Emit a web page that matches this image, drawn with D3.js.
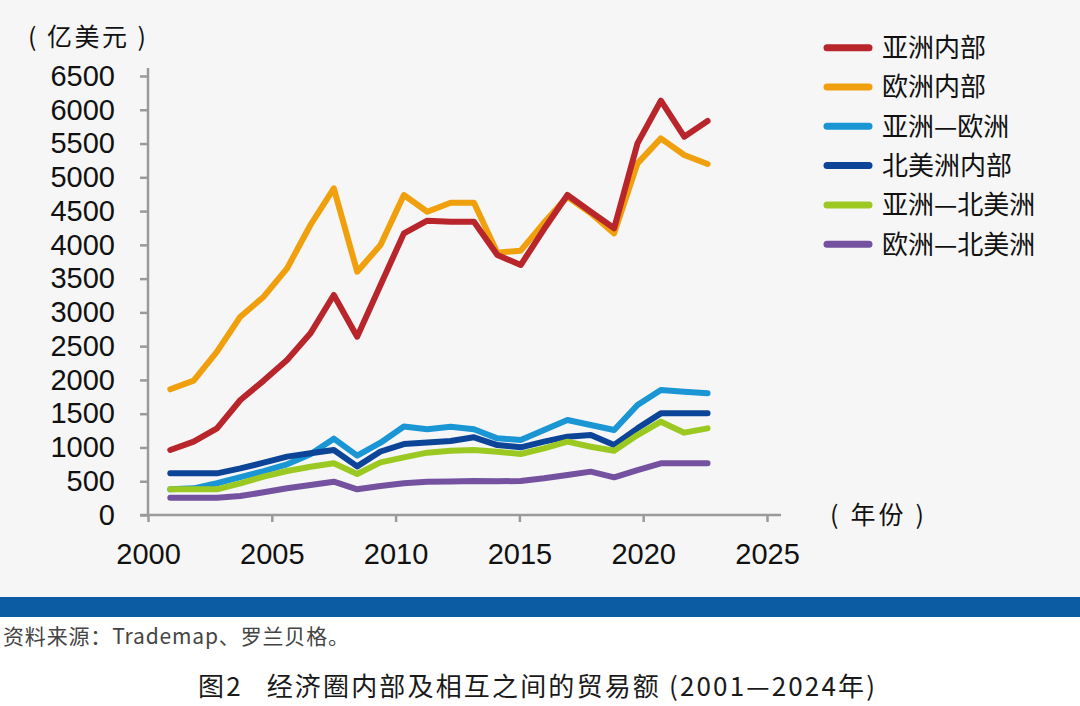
<!DOCTYPE html>
<html>
<head>
  <meta charset="utf-8">
  <script src="https://d3js.org/d3.v7.min.js"></script>
  <style>
    body { margin: 0; background: #ffffff; }
    text { font-family: "Liberation Sans", Arial, sans-serif; }
    .cn { font-family: "Noto Sans CJK SC", sans-serif; white-space: pre; }
  </style>
</head>
<body>
<script type="text/javascript">
  // data (亿美元)
  var years = d3.range(2001, 2025);
  var seriesNames = ["亚洲内部", "欧洲内部", "亚洲—欧洲", "北美洲内部", "亚洲—北美洲", "欧洲—北美洲"];
  var seriesColors = ["#b8262c", "#efa00c", "#1a96d4", "#0c4597", "#9bc922", "#7452a0"];

  var asiaIntra   = [962, 1086, 1283, 1703, 1990, 2295, 2690, 3257, 2640, 3405, 4170, 4358, 4343, 4343, 3850, 3701, 4234, 4738, 4491, 4245, 5503, 6134, 5602, 5834];
  var europeIntra = [1861, 1989, 2418, 2936, 3232, 3652, 4294, 4837, 3603, 3998, 4738, 4491, 4624, 4624, 3884, 3914, 4330, 4713, 4467, 4170, 5207, 5577, 5330, 5197];
  var asiaEurope  = [380, 395, 470, 560, 650, 750, 900, 1130, 880, 1070, 1310, 1270, 1308, 1269, 1135, 1110, 1258, 1407, 1333, 1258, 1629, 1851, 1826, 1801];
  var naIntra     = [617, 617, 617, 690, 775, 864, 913, 962, 720, 940, 1050, 1075, 1095, 1150, 1036, 1002, 1086, 1160, 1184, 1036, 1283, 1505, 1505, 1505];
  var asiaNA      = [380, 380, 380, 469, 568, 651, 715, 765, 607, 780, 854, 923, 950, 962, 937, 903, 987, 1086, 1011, 952, 1184, 1382, 1219, 1283];
  var europeNA    = [256, 256, 256, 281, 336, 395, 444, 493, 380, 429, 469, 493, 495, 503, 500, 503, 543, 592, 642, 558, 666, 765, 765, 765];

  var yTicks = d3.range(0, 6501, 500);
  var xTicks = [2000, 2005, 2010, 2015, 2020, 2025];

  var allSeries = [asiaIntra, europeIntra, asiaEurope, naIntra, asiaNA, europeNA];
  // drawing order (last on top), as in the picture
  var drawOrder = [2, 3, 4, 5, 1, 0];

  var width = 1080, height = 706;

  var svg = d3.select("body")
      .append("svg")
      .attr("width", width)
      .attr("height", height);

  svg.append("rect")
      .attr("x", 0).attr("y", 0)
      .attr("width", width).attr("height", 597)
      .attr("fill", "#f6f6f6");

  svg.append("rect")
      .attr("x", 0).attr("y", 597)
      .attr("width", width).attr("height", 20)
      .attr("fill", "#0b5ca2");

  var x = d3.scaleLinear().domain([2000, 2025]).range([148, 767]);
  var y = d3.scaleLinear().domain([0, 6500]).range([515, 76]);
  // the points sit a bit off the year ticks in the original
  var xp = d3.scaleLinear().domain([2001, 2024]).range([x(2000.9), x(2022.6)]);

  var axisColor = "#9a9a9a";

  // y axis
  var yAxis = svg.append("g")
      .attr("transform", "translate(148,0)")
      .call(d3.axisLeft(y).tickValues(yTicks).tickFormat(d3.format("d"))
        .tickSize(8).tickPadding(25).tickSizeOuter(0));
  yAxis.select(".domain").remove();
  yAxis.selectAll("line").attr("stroke", axisColor).attr("stroke-width", 2.5);
  yAxis.selectAll("text")
      .attr("fill", "#111")
      .style("font-size", "29px")
      .style("font-family", "'Liberation Sans', Arial, sans-serif");

  svg.append("line")
      .attr("x1", 148).attr("x2", 148)
      .attr("y1", y(6500) - 8).attr("y2", y(0))
      .attr("stroke", axisColor).attr("stroke-width", 2.5);

  // x axis
  var xAxis = svg.append("g")
      .attr("transform", "translate(0,515)")
      .call(d3.axisBottom(x).tickValues(xTicks).tickFormat(d3.format("d"))
        .tickSize(7).tickPadding(21).tickSizeOuter(0));
  xAxis.select(".domain").remove();
  xAxis.selectAll("line").attr("stroke", axisColor).attr("stroke-width", 2.5);
  xAxis.selectAll("text")
      .attr("fill", "#111")
      .style("font-size", "29px")
      .style("font-family", "'Liberation Sans', Arial, sans-serif");

  svg.append("line")
      .attr("x1", 140).attr("x2", x(2025) + 14)
      .attr("y1", 515).attr("y2", 515)
      .attr("stroke", axisColor).attr("stroke-width", 2.5);

  // lines
  var line = d3.line()
      .x(function (d, i) { return xp(years[i]); })
      .y(function (d) { return y(d); });

  svg.selectAll("path.series")
      .data(drawOrder)
      .enter()
      .append("path")
      .attr("class", "series")
      .attr("d", function (k) { return line(allSeries[k]); })
      .attr("fill", "none")
      .attr("stroke", function (k) { return seriesColors[k]; })
      .attr("stroke-width", 6)
      .attr("stroke-linejoin", "round")
      .attr("stroke-linecap", "round");

  // legend
  var legend = svg.selectAll("g.legend")
      .data(seriesNames)
      .enter()
      .append("g")
      .attr("class", "legend")
      .attr("transform", function (d, i) { return "translate(0," + (47.7 + i * 39.3) + ")"; });

  legend.append("line")
      .attr("x1", 827).attr("x2", 869)
      .attr("y1", 0).attr("y2", 0)
      .attr("stroke", function (d, i) { return seriesColors[i]; })
      .attr("stroke-width", 7)
      .attr("stroke-linecap", "round");

  legend.append("text")
      .attr("class", "cn")
      .attr("x", 882)
      .attr("y", 0)
      .attr("dy", "0.36em")
      .attr("fill", "#111")
      .style("font-size", "26px")
      .text(function (d) { return d; });

  // unit labels
  svg.append("text")
      .attr("class", "cn")
      .attr("x", 28).attr("y", 37).attr("dy", "0.36em")
      .attr("fill", "#111")
      .attr("textLength", 118)
      .attr("lengthAdjust", "spacing")
      .style("font-size", "25px")
      .text("( 亿美元 )");

  svg.append("text")
      .attr("class", "cn")
      .attr("x", 830).attr("y", 515).attr("dy", "0.36em")
      .attr("fill", "#111")
      .attr("textLength", 94)
      .attr("lengthAdjust", "spacing")
      .style("font-size", "25px")
      .text("( 年份 )");

  // source and caption
  svg.append("text")
      .attr("class", "cn")
      .attr("x", 3).attr("y", 636).attr("dy", "0.36em")
      .attr("fill", "#444")
      .attr("textLength", 346)
      .attr("lengthAdjust", "spacing")
      .style("font-size", "21px")
      .text("资料来源：Trademap、罗兰贝格。");

  svg.append("text")
      .attr("class", "cn")
      .attr("x", 198).attr("y", 687).attr("dy", "0.36em")
      .attr("fill", "#1a1a1a")
      .attr("textLength", 677)
      .attr("lengthAdjust", "spacing")
      .style("font-size", "26px")
      .text("图2   经济圈内部及相互之间的贸易额 (2001—2024年)");
</script>
</body>
</html>
